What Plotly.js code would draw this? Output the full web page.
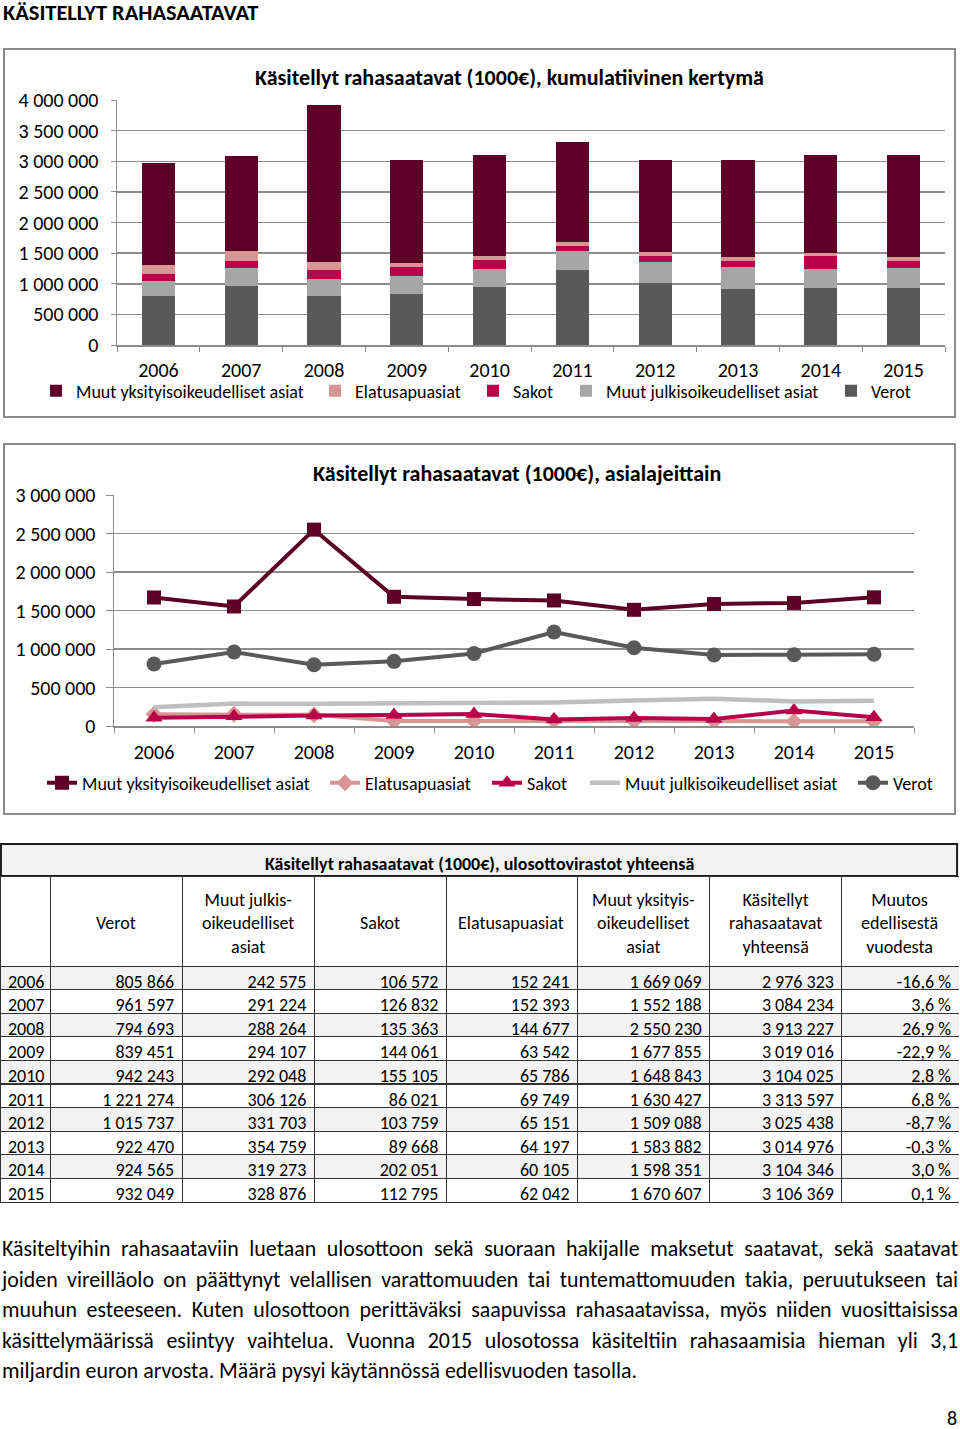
<!DOCTYPE html>
<html><head><meta charset="utf-8">
<script src="https://cdn.plot.ly/plotly-3.0.1.min.js"></script>
<style>
:root{--f: Carlito, Calibri, 'Liberation Sans Narrow', 'Open Sans', sans-serif;}
body{margin:0;width:960px;height:1429px;position:relative;background:#fff;font-family:var(--f);overflow:hidden;color:#000}
#h1{position:absolute;left:3px;top:0px;font-size:22.4px;font-weight:bold;line-height:26px}
.box{position:absolute;left:3px;width:953px;box-sizing:border-box;border:2px solid #8c8c8c}
#box1{top:48px;height:370px}
#box2{top:443px;height:372px}
#tbl{position:absolute;left:0;top:843px;width:959px;height:363px}
#para{position:absolute;left:2px;top:1234px;width:956px;font-size:21.9px;line-height:30.5px}
#para div{text-align:justify;text-align-last:justify;white-space:nowrap}
#para div.last{text-align-last:left}
#pg{position:absolute;left:947px;top:1408px;font-size:20px;line-height:20px}
</style></head><body>
<div id="h1">KÄSITELLYT RAHASAATAVAT</div>
<div id="box1" class="box"><div id="c1"></div></div>
<div id="box2" class="box"><div id="c2"></div></div>
<div id="tbl"></div>
<div id="para">
<div>Käsiteltyihin rahasaataviin luetaan ulosottoon sekä suoraan hakijalle maksetut saatavat, sekä saatavat</div>
<div>joiden vireilläolo on päättynyt velallisen varattomuuden tai tuntemattomuuden takia, peruutukseen tai</div>
<div>muuhun esteeseen. Kuten ulosottoon perittäväksi saapuvissa rahasaatavissa, myös niiden vuosittaisissa</div>
<div>käsittelymäärissä esiintyy vaihtelua. Vuonna 2015 ulosotossa käsiteltiin rahasaamisia hieman yli 3,1</div>
<div class="last">miljardin euron arvosta. Määrä pysyi käytännössä edellisvuoden tasolla.</div>
</div>
<div id="pg">8</div>
<script>
// ---- data ----
const years = ['2006','2007','2008','2009','2010','2011','2012','2013','2014','2015'];
const verot    = [805866, 961597, 794693, 839451, 942243, 1221274, 1015737, 922470, 924565, 932049];
const muutJulk = [242575, 291224, 288264, 294107, 292048, 306126, 331703, 354759, 319273, 328876];
const sakot    = [106572, 126832, 135363, 144061, 155105, 86021, 103759, 89668, 202051, 112795];
const elatus   = [152241, 152393, 144677, 63542, 65786, 69749, 65151, 64197, 60105, 62042];
const muutYks  = [1669069, 1552188, 2550230, 1677855, 1648843, 1630427, 1509088, 1583882, 1598351, 1670607];
const yhteensa = [2976323, 3084234, 3913227, 3019016, 3104025, 3313597, 3025438, 3014976, 3104346, 3106369];
const muutos   = [-16.6, 3.6, 26.9, -22.9, 2.8, 6.8, -8.7, -0.3, 3.0, 0.1];
const names = {
  muutYks: 'Muut yksityisoikeudelliset asiat',
  elatus: 'Elatusapuasiat',
  sakot: 'Sakot',
  muutJulk: 'Muut julkisoikeudelliset asiat',
  verot: 'Verot'
};
const title1 = 'Käsitellyt rahasaatavat (1000€), kumulatiivinen kertymä';
const title2 = 'Käsitellyt rahasaatavat (1000€), asialajeittain';
const title3 = 'Käsitellyt rahasaatavat (1000€), ulosottovirastot yhteensä';
const tableHeaders = ['', 'Verot', 'Muut julkis-<br>oikeudelliset<br>asiat', 'Sakot', 'Elatusapuasiat',
  'Muut yksityis-<br>oikeudelliset<br>asiat', 'Käsitellyt<br>rahasaatavat<br>yhteensä', 'Muutos<br>edellisestä<br>vuodesta'];

// ---- style ----
const FONT = "Carlito, Calibri, 'Liberation Sans Narrow', 'Open Sans', sans-serif";
const col = {muutYks:'#5c0026', elatus:'#d99594', sakot:'#b8004a', muutJulk:'#a6a6a6', verot:'#595959'};
const grid = '#8c8c8c';
const cfg = {displayModeBar:false, staticPlot:true};
const legKeys = ['muutYks','elatus','sakot','muutJulk','verot'];
const src = {verot, muutJulk, sakot, elatus, muutYks};

function legends(textStarts, x0, w, y){
  const L = {};
  legKeys.forEach((k,i) => {
    const id = i===0 ? 'legend' : 'legend'+(i+1);
    L[id] = {x:(textStarts[i]-40-x0)/w, xanchor:'left', y:y, yanchor:'middle', font:{size:18}, bgcolor:'rgba(0,0,0,0)'};
  });
  return L;
}
function legId(k){ const i = legKeys.indexOf(k); return i===0 ? 'legend' : 'legend'+(i+1); }

// ---- chart 1 ----
const order1 = ['verot','muutJulk','sakot','elatus','muutYks'];
const tr1 = order1.map(k => ({type:'bar', x:years, y:src[k], name:names[k], marker:{color:col[k]}, legend:legId(k)}));
const lay1 = {
  width:949, height:366, margin:{l:112, r:9, t:50, b:71, autoexpand:false},
  separators:', ', barmode:'stack', bargap:0.6,
  font:{family:FONT, size:20, color:'#000'},
  paper_bgcolor:'#fff', plot_bgcolor:'#fff',
  title:{text:'<b>'+title1+'</b>', font:{size:22}, x:0.474, xref:'paper', xanchor:'center', y:0.926, yref:'container', yanchor:'middle'},
  xaxis:{type:'category', range:[-0.5,9.5], showline:true, linecolor:grid, linewidth:1.5, ticks:'outside', tickson:'boundaries', ticklen:5, tickcolor:grid, ticklabelstandoff:6, showgrid:false},
  yaxis:{range:[0,4000000], dtick:500000, tickformat:',d', showline:true, linecolor:grid, linewidth:1.5, ticks:'outside', ticklen:5, tickcolor:grid, gridcolor:grid, gridwidth:1.5, zeroline:false, ticklabelstandoff:8},
  showlegend:true
};
Object.assign(lay1, legends([76,355,513,606,871], 117, 828, -(391-345)/245));
Plotly.newPlot('c1', tr1, lay1, cfg);

// ---- chart 2 ----
const sty2 = {
  muutYks:{sym:'square', size:14, c:'#5c0026', w:4},
  elatus:{sym:'diamond', size:13, c:'#d99594', w:4},
  sakot:{sym:'triangle-up', size:15, c:'#b8004a', w:4},
  muutJulk:{sym:null, size:0, c:'#bfbfbf', w:4.5},
  verot:{sym:'circle', size:15, c:'#595959', w:4}
};
const tr2 = legKeys.map(k => {
  const o = sty2[k];
  const t = {type:'scatter', x:years, y:src[k], name:names[k], legend:legId(k),
    mode: o.sym ? 'lines+markers' : 'lines', line:{color:o.c, width:o.w}};
  if (o.sym) t.marker = {symbol:o.sym, size:o.size, color:o.c};
  return t;
});
const lay2 = {
  width:949, height:368, margin:{l:109, r:40, t:50, b:87, autoexpand:false},
  separators:', ',
  font:{family:FONT, size:20, color:'#000'},
  paper_bgcolor:'#fff', plot_bgcolor:'#fff',
  title:{text:'<b>'+title2+'</b>', font:{size:22}, x:0.504, xref:'paper', xanchor:'center', y:0.924, yref:'container', yanchor:'middle'},
  xaxis:{type:'category', range:[-0.5,9.5], showline:true, linecolor:grid, linewidth:1.5, ticks:'outside', tickson:'boundaries', ticklen:5, tickcolor:grid, ticklabelstandoff:7, showgrid:false},
  yaxis:{range:[0,3000000], dtick:500000, tickformat:',d', showline:true, linecolor:grid, linewidth:1.5, ticks:'outside', ticklen:7, tickcolor:grid, gridcolor:grid, gridwidth:1.5, zeroline:false, ticklabelstandoff:6},
  showlegend:true
};
Object.assign(lay2, legends([82,365,527,625,893], 114, 800, -(783-726)/231));
Plotly.newPlot('c2', tr2, lay2, cfg);

// ---- table ----
function fmt(n){ return String(n).replace(/\B(?=(\d{3})+(?!\d))/g, ' '); }
function pct(v){ return v.toFixed(1).replace('.', ',') + ' %'; }
const cellVals = [years, verot.map(fmt), muutJulk.map(fmt), sakot.map(fmt), elatus.map(fmt), muutYks.map(fmt), yhteensa.map(fmt), muutos.map(pct)];
const rowFill = years.map((y,i) => i%2===0 ? '#f2f2f2' : '#ffffff');
const H = 363, titleH = 33, W = 959;
const colW = [50,132,132,132,131,132,132,117];
const colStart = colW.map((w,i) => colW.slice(0,i).reduce((a,b)=>a+b,0));
const hdrAnn = tableHeaders.map((h,i) => ({xref:'paper', yref:'paper', x:(colStart[i]+colW[i]/2)/W, y:1-80/H,
  xanchor:'center', yanchor:'middle', align:'center', showarrow:false, text:h, font:{family:FONT, size:18, color:'#000'}}));
Plotly.newPlot('tbl', [{
  type:'table', domain:{x:[0,1], y:[0,(H-titleH)/H]},
  columnwidth:colW,
  header:{values:tableHeaders.map(() => ''), height:90, align:'center', fill:{color:'#ffffff'}, line:{color:'#333', width:1}, font:{family:FONT, size:18, color:'#000'}},
  cells:{values:cellVals, height:23.6, align:['left','right','right','right','right','right','right','right'],
    fill:{color:cellVals.map(() => rowFill)}, line:{color:'#333', width:1}, font:{family:FONT, size:18, color:'#000'}}
}], {
  width:W, height:H, margin:{l:0, r:0, t:0, b:0}, paper_bgcolor:'rgba(0,0,0,0)',
  font:{family:FONT},
  shapes:[{type:'rect', xref:'paper', yref:'paper', x0:0.001, x1:0.998, y0:(H-titleH)/H, y1:0.997, line:{color:'#1a1a1a', width:2}, fillcolor:'#f2f2f2', layer:'below'}],
  annotations:[{xref:'paper', yref:'paper', x:0.5, y:1-21/H, xanchor:'center', yanchor:'middle', showarrow:false, text:'<b>'+title3+'</b>', font:{family:FONT, size:18, color:'#000'}}].concat(hdrAnn)
}, cfg);
</script>
</body></html>
